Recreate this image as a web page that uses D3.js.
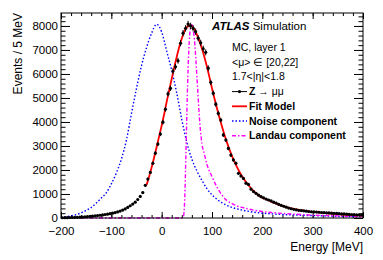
<!DOCTYPE html>
<html>
<head>
<meta charset="utf-8">
<script src="https://cdn.jsdelivr.net/npm/d3@7"></script>
<style>
  body { margin: 0; background: #fff; }
  svg text { font-family: "Liberation Sans", Arial, Helvetica, sans-serif; fill: #000; }
</style>
</head>
<body>
<svg id="chart" width="383" height="260"></svg>
<script>
// data: Z -> mumu, 5 MeV bins from -200 to 400 (bin centres)
const binCentres = d3.range(-197.5, 400, 5);
const dataValues = [
  10, 15, 15, 20, 20, 25, 30, 35, 40, 50,
  55, 65, 75, 90, 100, 115, 130, 145, 160, 180,
  200, 225, 255, 290, 330, 380, 440, 510, 580, 660,
  770, 900, 1060, 1360, 1620, 1900, 2280, 2700, 3080, 3500,
  3990, 4530, 5170, 5400, 6120, 6300, 6550, 7280, 7700, 7900,
  8080, 8000, 7900, 7760, 7490, 7300, 7050, 6900, 6240, 5650,
  5200, 4740, 4360, 4080, 3460, 3250, 2900, 2620, 2420, 2280,
  1860, 1750, 1650, 1450, 1400, 1200, 1100, 1030, 950, 890,
  840, 790, 750, 710, 660, 620, 570, 530, 490, 450,
  415, 385, 360, 340, 320, 310, 300, 285, 270, 260,
  255, 250, 240, 230, 225, 215, 210, 200, 195, 190,
  180, 170, 170, 160, 150, 145, 140, 130, 125, 120
];

// fit model (red), from -30 MeV
const fitX = d3.range(-30, 405, 5);
const fitY = [
  1380, 1720, 2100, 2520, 2960, 3400, 3850, 4330, 4850, 5330,
  5800, 6280, 6720, 7130, 7480, 7760, 7950, 8020, 7990, 7860,
  7640, 7370, 7060, 6700, 6300, 5860, 5400, 4970, 4560, 4170,
  3800, 3450, 3130, 2840, 2570, 2330, 2110, 1910, 1730, 1570,
  1430, 1300, 1180, 1080, 990, 910, 850, 800, 760, 710,
  660, 620, 580, 540, 500, 470, 440, 415, 390, 370,
  350, 330, 315, 300, 285, 270, 258, 245, 235, 225,
  215, 205, 195, 185, 176, 168, 160, 152, 145, 138,
  132, 126, 120, 115, 110, 106, 102
];

// noise component (blue)
const noiseX = [-200, -190, -180, -170, -160, -150, -140, -130, -120, -110,
  -100, -90, -80, -70, -60, -50, -40, -30, -20, -10,
  0, 10, 20, 30, 40, 50, 60, 70, 80, 90,
  100, 110, 120, 130, 140, 160, 180, 200, 220, 240,
  260, 280, 300, 320, 340, 360, 380, 400];
const noiseY = [25, 50, 90, 140, 215, 310, 440, 620, 830, 1050,
  1420, 1880, 2450, 3250, 4350, 5400, 6350, 7100, 7700, 8070,
  7750, 6950, 6150, 5200, 4100, 3150, 2450, 1960, 1570, 1220,
  960, 780, 630, 520, 440, 330, 250, 200, 170, 145,
  130, 115, 100, 90, 75, 65, 55, 50];

// landau component (magenta)
const landauX = [-200, 40, 42, 44, 46, 48, 50, 52, 54, 56,
  58, 60, 62, 64, 66, 68, 70, 72, 74, 76,
  80, 85, 90, 100, 110, 120, 130, 140, 150, 160,
  180, 200, 220, 240, 260, 280, 300, 340, 370, 400];
const landauY = [0, 0, 20, 150, 900, 2500, 4300, 5900, 7000, 7700,
  8000, 8050, 7950, 7650, 7200, 6600, 5900, 5200, 4500, 3900,
  3100, 2650, 2230, 1720, 1280, 950, 720, 600, 500, 440,
  340, 270, 225, 190, 165, 140, 120, 95, 75, 60];

const xMajor = d3.range(-200, 401, 100);
const xMinor = d3.range(-200, 401, 20);
const yMajor = d3.range(0, 8001, 1000);
const yMinor = d3.range(0, 8501, 200);

const infoLines = ["MC, layer 1", "<\u03bc> \u2208 [20,22]", "1.7<|\u03b7|<1.8"];

const svg = d3.select("#chart"),
  fLeft = 61, fRight = 363, fTop = 13, fBottom = 218;

const x = d3.scaleLinear().domain([-200, 400]).range([fLeft, fRight]);
const y = d3.scaleLinear().domain([0, 8540]).range([fBottom, fTop]);

svg.append("rect").attr("width", 383).attr("height", 260).attr("fill", "#fff");

// axes (ROOT style, ticks inward on all sides)
function styleAxis(g) {
  g.select(".domain").remove();
  g.selectAll(".tick line").attr("stroke", "#000");
  g.selectAll("text").style("font-size", "11.5px").style("font-family", "Liberation Sans, Arial, sans-serif");
}

svg.append("g").attr("transform", `translate(0,${fBottom})`)
  .call(d3.axisBottom(x).tickValues(xMinor).tickSize(-3).tickFormat(""))
  .call(styleAxis);
svg.append("g").attr("transform", `translate(0,${fBottom})`)
  .call(d3.axisBottom(x).tickValues(xMajor).tickSize(-6).tickPadding(8.5)
    .tickFormat(d => d < 0 ? "\u2212" + Math.abs(d) : d))
  .call(styleAxis);
svg.append("g").attr("transform", `translate(0,${fTop})`)
  .call(d3.axisTop(x).tickValues(xMinor).tickSize(-3).tickFormat(""))
  .call(styleAxis);
svg.append("g").attr("transform", `translate(0,${fTop})`)
  .call(d3.axisTop(x).tickValues(xMajor).tickSize(-6).tickFormat(""))
  .call(styleAxis);

svg.append("g").attr("transform", `translate(${fLeft},0)`)
  .call(d3.axisLeft(y).tickValues(yMinor).tickSize(-4.5).tickFormat(""))
  .call(styleAxis);
svg.append("g").attr("transform", `translate(${fLeft},0)`)
  .call(d3.axisLeft(y).tickValues(yMajor).tickSize(-9).tickPadding(3).tickFormat(d3.format("d")))
  .call(styleAxis);
svg.append("g").attr("transform", `translate(${fRight},0)`)
  .call(d3.axisRight(y).tickValues(yMinor).tickSize(-4.5).tickFormat(""))
  .call(styleAxis);
svg.append("g").attr("transform", `translate(${fRight},0)`)
  .call(d3.axisRight(y).tickValues(yMajor).tickSize(-9).tickFormat(""))
  .call(styleAxis);

// curves
const lineGen = d3.line().x(d => x(d[0])).y(d => y(d[1])).curve(d3.curveMonotoneX);

const plot = svg.append("g");

plot.append("path")
  .datum(noiseX.map((v, i) => [v, noiseY[i]]))
  .attr("d", lineGen)
  .attr("fill", "none").attr("stroke", "#0000ff")
  .attr("stroke-width", 1.4).attr("stroke-dasharray", "1.5,2");

plot.append("path")
  .datum(landauX.map((v, i) => [v, landauY[i]]))
  .attr("d", lineGen)
  .attr("fill", "none").attr("stroke", "#ff00ff")
  .attr("stroke-width", 1.4).attr("stroke-dasharray", "4,2,1.5,2");

plot.append("path")
  .datum(fitX.map((v, i) => [v, fitY[i]]))
  .attr("d", lineGen)
  .attr("fill", "none").attr("stroke", "#ff0000")
  .attr("stroke-width", 1.8);

// data points with error bars
const pts = plot.selectAll("g.pt")
  .data(binCentres.map((v, i) => [v, dataValues[i]]))
  .enter().append("g").attr("class", "pt");
pts.append("line")
  .attr("x1", d => x(d[0])).attr("x2", d => x(d[0]))
  .attr("y1", d => y(d[1] + Math.sqrt(d[1]) * 1.5))
  .attr("y2", d => y(d[1] - Math.sqrt(d[1]) * 1.5))
  .attr("stroke", "#000").attr("stroke-width", 1);
pts.append("circle")
  .attr("cx", d => x(d[0])).attr("cy", d => y(d[1]))
  .attr("r", 1.6).attr("fill", "#000");

// frame
svg.append("rect")
  .attr("x", fLeft).attr("y", fTop)
  .attr("width", fRight - fLeft).attr("height", fBottom - fTop)
  .attr("fill", "none").attr("stroke", "#000").attr("stroke-width", 1);

// axis titles
svg.append("text")
  .attr("x", fRight).attr("y", 251)
  .attr("text-anchor", "end").style("font-size", "12px")
  .text("Energy [MeV]");
svg.append("text")
  .attr("transform", `translate(22,${fTop}) rotate(-90)`)
  .attr("text-anchor", "end").style("font-size", "12px")
  .text("Events / 5 MeV");

// ATLAS label
const atlas = svg.append("text").attr("x", 212).attr("y", 30).style("font-size", "11.5px");
atlas.append("tspan").style("font-weight", "bold").style("font-style", "italic").text("ATLAS");
atlas.append("tspan").text(" Simulation");

const rowY = i => 51 + 14.7 * i;

svg.selectAll("text.info")
  .data(infoLines)
  .enter().append("text")
  .attr("class", "info")
  .attr("x", 232).attr("y", (d, i) => rowY(i))
  .style("font-size", "10.5px")
  .text(d => d);

// legend
const legendItems = [
  { label: "Z", extra: " \u2192  \u03bc\u03bc", color: "#000", dash: null, marker: true, w: 1 },
  { label: "Fit Model", color: "#ff0000", dash: null, w: 1.8 },
  { label: "Noise component", color: "#0000ff", dash: "1.5,2", w: 1.4 },
  { label: "Landau component", color: "#ff00ff", dash: "4,2,1.5,2", w: 1.4 }
];
const leg = svg.selectAll("g.leg")
  .data(legendItems)
  .enter().append("g").attr("class", "leg")
  .attr("transform", (d, i) => `translate(0,${rowY(i + 3)})`);
leg.append("line")
  .attr("x1", 232).attr("x2", 247).attr("y1", -3.5).attr("y2", -3.5)
  .attr("stroke", d => d.color).attr("stroke-width", d => d.w)
  .attr("stroke-dasharray", d => d.dash);
leg.filter(d => d.marker).append("circle")
  .attr("cx", 239.5).attr("cy", -3.5).attr("r", 1.6).attr("fill", "#000");
const lt = leg.append("text").attr("x", 249).attr("y", 0).style("font-size", "10.5px");
lt.append("tspan").style("font-weight", "bold").text(d => d.label);
lt.filter(d => d.extra).append("tspan").text(d => d.extra);
</script>
</body>
</html>
